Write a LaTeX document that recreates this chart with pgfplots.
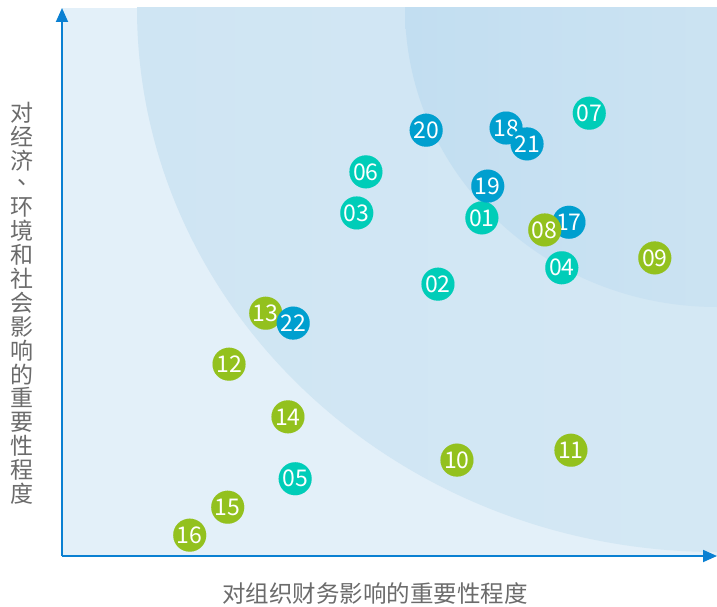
\documentclass[border=0pt]{standalone}
\usepackage{fontspec}
\setmainfont{Noto Sans CJK SC}
\usepackage{pgfplots}
\pgfplotsset{compat=1.18}
\usetikzlibrary{arrows.meta}
\definecolor{cT}{HTML}{00CDB8}
\definecolor{cB}{HTML}{009FCF}
\definecolor{cG}{HTML}{93C11E}
\definecolor{axblue}{HTML}{0A80D2}
\definecolor{bgbase}{HTML}{E3F0F9}
\definecolor{outL}{HTML}{CFE5F3}
\definecolor{outR}{HTML}{D9EBF6}
\definecolor{inL}{HTML}{C2DEF1}
\definecolor{inR}{HTML}{D5E8F4}
\definecolor{lblgray}{HTML}{6B6B6B}
\begin{document}
\begin{tikzpicture}
\begin{axis}[
  at={(0,0)}, anchor=south west,
  scale only axis, width=655pt, height=548pt,
  xmin=0, xmax=100, ymin=0, ymax=100,
  axis lines=left,
  axis line style={draw=axblue, line width=1.8pt, -{Triangle[length=14pt,width=12pt]}},
  xtick=\empty, ytick=\empty,
  axis on top,
  xlabel={对组织财务影响的重要性程度},
  xlabel style={at={(rel axis cs:0.478,-0.069)}, anchor=center, text=lblgray, font=\fontsize{23.5}{24}\selectfont},
  ylabel={对\\经\\济\\[-8.5pt]\makebox[1em][l]{\hspace{0.3em}、}\\[7pt]环\\境\\和\\社\\会\\影\\响\\的\\重\\要\\性\\程\\度},
  ylabel style={at={(rel axis cs:-0.061,0.461)}, anchor=center, rotate=-90, align=center, text=lblgray, font=\fontsize{23}{23.9}\selectfont},
]
\fill[bgbase] (axis cs:0,0) rectangle (axis cs:100,100);
\path[left color=outL, right color=outR] (axis cs:100,100) ellipse [x radius=580pt, y radius=544pt];
\path[left color=inL, right color=inR] (axis cs:100,100) ellipse [x radius=312pt, y radius=299pt];
\addplot[scatter, only marks, mark=*, mark size=16.5pt,
  point meta=explicit symbolic,
  visualization depends on={value \thisrow{lab}\as\lab},
  scatter/@pre marker code/.code={\scope[fill=\pgfplotspointmeta, draw=\pgfplotspointmeta, line width=0.01pt]},
  scatter/@post marker code/.code={\node[text=white, inner sep=0pt, font=\fontsize{23}{23}\selectfont] at (0,0) {\lab};\endscope},
] table[x=x, y=y, meta=col] {
x y col lab
64.1 61.7 cT 01
57.4 49.6 cT 02
45.0 62.6 cT 03
76.3 52.6 cT 04
35.6 14.1 cT 05
46.4 70.1 cT 06
80.5 80.8 cT 07
31.1 44.3 cG 13
77.4 60.9 cB 17
67.8 78.1 cB 18
65.0 67.5 cB 19
55.6 77.7 cB 20
71.0 75.2 cB 21
35.3 42.5 cB 22
73.7 59.5 cG 08
90.5 54.4 cG 09
60.3 17.5 cG 10
77.7 19.3 cG 11
25.5 35.0 cG 12
34.5 25.4 cG 14
25.3 8.9 cG 15
19.5 3.8 cG 16
};
\end{axis}
\pgfresetboundingbox
\path[use as bounding box] (-62pt,-50pt) rectangle (655pt,556pt);
\end{tikzpicture}
\end{document}
